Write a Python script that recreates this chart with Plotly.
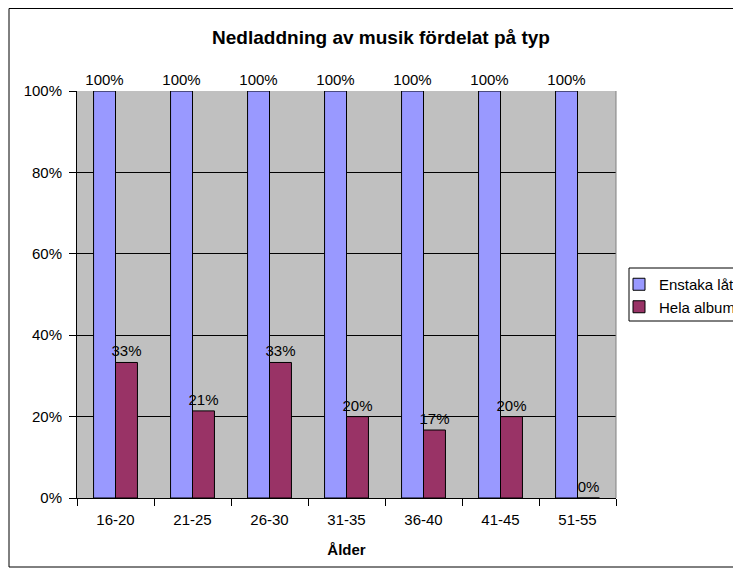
import plotly.graph_objects as go

categories = ["16-20", "21-25", "26-30", "31-35", "36-40", "41-45", "51-55"]
enstaka = [1.0, 1.0, 1.0, 1.0, 1.0, 1.0, 1.0]
hela = [0.333, 0.214, 0.333, 0.2, 0.167, 0.2, 0.0]
enstaka_labels = ["100%"] * 7
hela_labels = ["33%", "21%", "33%", "20%", "17%", "20%", "0%"]

FONT = "Liberation Sans, Arial, sans-serif"

W, H = 733, 564
L, R, T, B = 69, 125, 83, 74
PW, PH = W - L - R, H - T - B


def px_x(x):
    return (x - L) / PW


def px_y(y):
    return (T + PH - y) / PH


fig = go.Figure()
fig.add_trace(go.Bar(
    x=categories, y=enstaka, name="Enstaka låtar",
    marker=dict(color="#9999FF", line=dict(color="#000000", width=1)),
    text=enstaka_labels, textposition="outside", cliponaxis=False,
    textfont=dict(family=FONT, size=15, color="#000000"),
))
fig.add_trace(go.Bar(
    x=categories, y=hela, name="Hela album",
    marker=dict(color="#993366", line=dict(color="#000000", width=1)),
    text=hela_labels, textposition="outside", cliponaxis=False,
    textfont=dict(family=FONT, size=15, color="#000000"),
))

fig.update_layout(
    width=W, height=H,
    margin=dict(l=L, r=R, t=T, b=B, autoexpand=False),
    paper_bgcolor="#FFFFFF",
    plot_bgcolor="#C0C0C0",
    barmode="group",
    bargap=0.43,
    bargroupgap=0,
    font=dict(family=FONT, size=15, color="#000000"),
    title=dict(text="<b>Nedladdning av musik fördelat på typ</b>",
               x=px_x(373), xref="paper", xanchor="center",
               y=1 - 29 / H, yanchor="middle",
               font=dict(family=FONT, size=19, color="#000000")),
    xaxis=dict(
        type="category", tickson="boundaries",
        ticks="outside", ticklen=7, tickcolor="#000000",
        showline=True, linecolor="#000000", linewidth=1,
        showgrid=False, tickfont=dict(size=15), ticklabelstandoff=8,
        title=dict(text="<b>Ålder</b>", font=dict(size=15), standoff=17),
    ),
    yaxis=dict(
        range=[0, 1], tickvals=[0, 0.2, 0.4, 0.6, 0.8, 1.0],
        tickformat=".0%",
        ticks="outside", ticklen=7, tickcolor="#000000",
        showline=True, linecolor="#000000", linewidth=1,
        showgrid=True, gridcolor="#000000", gridwidth=1,
        zeroline=False, tickfont=dict(size=15), ticklabelstandoff=4,
    ),
    legend=dict(
        x=px_x(611), y=px_y(260),
        xanchor="left", yanchor="top",
        bgcolor="rgba(0,0,0,0)", borderwidth=0,
        font=dict(size=15), tracegroupgap=0, itemwidth=30,
    ),
    showlegend=True,
)
fig.update_traces(constraintext="none")

# plot-area right border (gray), legend box and outer chart frame
fig.add_shape(type="line", xref="paper", yref="paper", x0=1, x1=1, y0=0, y1=1,
              line=dict(color="#808080", width=1))
fig.add_shape(type="rect", xref="paper", yref="paper",
              x0=px_x(621), x1=px_x(760), y0=px_y(313), y1=px_y(260),
              fillcolor="#FFFFFF", line=dict(color="#000000", width=1), layer="above")
fig.add_shape(type="rect", xref="paper", yref="paper",
              x0=px_x(1), x1=1.4,
              y0=px_y(559), y1=px_y(0.5),
              line=dict(color="#000000", width=1), layer="below")

fig.write_html("out.html")
